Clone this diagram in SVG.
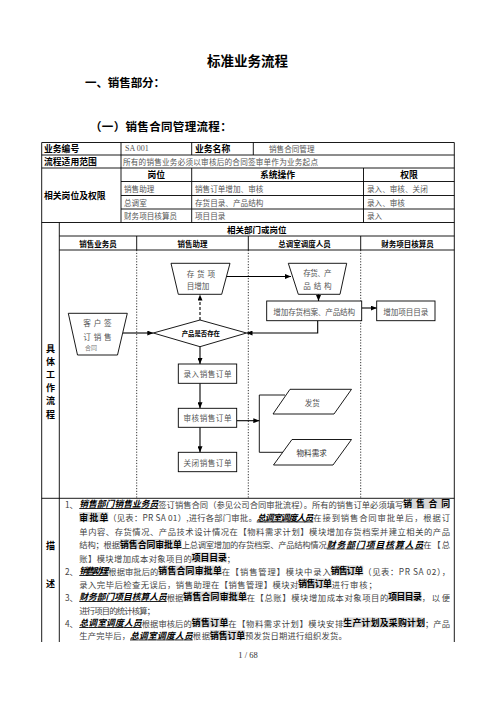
<svg xmlns="http://www.w3.org/2000/svg" width="496" height="702" viewBox="0 0 496 702">
<defs>
<style>
text{font-family:"Noto Sans CJK SC","Noto Sans",sans-serif;dominant-baseline:central}
.h{font-weight:bold;fill:#000}
.g{fill:#555;font-size:7.6px}
.n{fill:#555;font-size:7.6px}
.ln{stroke:#000;stroke-width:0.9;fill:none}
.dt{stroke:#000;stroke-width:0.8;stroke-dasharray:1.2 1.6;fill:none}
.nd{fill:#fff;stroke:#000;stroke-width:0.9}
.ar{stroke:#000;stroke-width:1.1;fill:none;marker-end:url(#ah)}
.d{fill:#444;font-size:8.3px}
.b{fill:#000;font-size:8.8px;font-weight:bold}
.u{fill:#000;font-size:8.8px;font-weight:bold;font-style:italic;text-decoration:underline}
.hl{fill:#d9d9d9}
</style>
<marker id="ah" markerUnits="userSpaceOnUse" markerWidth="6" markerHeight="5" refX="6" refY="2.5" orient="auto">
<path d="M0,0 L6,2.5 L0,5 z" fill="#000"/>
</marker>
</defs>
<rect width="496" height="702" fill="#fff"/>

<g id="titles">
<text x="247.5" y="59.5" class="h" font-size="13.5" text-anchor="middle">标准业务流程</text>
<text x="85" y="81.7" class="h" font-size="11.5" textLength="80" lengthAdjust="spacing">一、销售部分：</text>
<text x="90" y="126" class="h" font-size="11.5" textLength="141.7" lengthAdjust="spacing">（一）销售合同管理流程：</text>
</g>

<g id="table">
<path class="ln" d="M41.7,142.5 H454.3 M41.7,155 H454.3 M41.7,168 H454.3 M121,181.5 H454.3 M121,195.5 H454.3 M121,209 H454.3 M41.7,222.5 H454.3 M59.3,236 H454.3 M59.3,250 H454.3 M41.7,498.3 H454.3"/>
<path class="ln" d="M41.7,142.5 V642 M454.3,142.5 V642 M121,142.5 V222.5 M191.7,142.5 V155 M253.3,142.5 V155 M191.7,168 V222.5 M363.5,168 V222.5 M59.3,222.5 V642 M136.7,236 V250 M248.3,236 V250 M360.7,236 V250"/>
<path class="dt" d="M136.7,250 V498.3 M248.3,250 V498.3 M360.7,250 V498.3"/>
<text x="44" y="148.8" class="h" font-size="8.8">业务编号</text>
<text x="125" y="148.8" fill="#555" font-size="8" style="font-family:'Liberation Serif',serif">SA 001</text>
<text x="195" y="148.8" class="h" font-size="8.8">业务名称</text>
<text x="269" y="148.8" class="n" font-size="7.9">销售合同管理</text>
<text x="44" y="161.5" class="h" font-size="8.8">流程适用范围</text>
<text x="123" y="161.5" class="n" textLength="195" lengthAdjust="spacing">所有的销售业务必须以审核后的合同签审单作为业务起点</text>
<text x="44" y="195.5" class="h" font-size="8.8">相关岗位及权限</text>
<text x="156.3" y="174.8" class="h" font-size="8.8" text-anchor="middle">岗位</text>
<text x="277.5" y="174.8" class="h" font-size="8.8" text-anchor="middle">系统操作</text>
<text x="409" y="174.8" class="h" font-size="8.8" text-anchor="middle">权限</text>
<text x="124" y="188.5" class="n">销售助理</text>
<text x="195" y="188.5" class="n">销售订单增加、审核</text>
<text x="367" y="188.5" class="n">录入、审核、关闭</text>
<text x="124" y="202.3" class="n">总调室</text>
<text x="195" y="202.3" class="n">存货目录、产品结构</text>
<text x="367" y="202.3" class="n">录入、审核</text>
<text x="124" y="215.8" class="n">财务项目核算员</text>
<text x="195" y="215.8" class="n">项目目录</text>
<text x="367" y="215.8" class="n">录入</text>
<text x="256.8" y="229.3" class="h" font-size="8.5" text-anchor="middle">相关部门或岗位</text>
<text x="98" y="243" class="h" font-size="7.5" text-anchor="middle">销售业务员</text>
<text x="192.5" y="243" class="h" font-size="7.5" text-anchor="middle">销售助理</text>
<text x="304.5" y="243" class="h" font-size="7.5" text-anchor="middle">总调室调度人员</text>
<text x="407.5" y="243" class="h" font-size="7.5" text-anchor="middle">财务项目核算员</text>
<g class="h" font-size="9" text-anchor="middle">
<text x="50.5" y="348">具</text>
<text x="50.5" y="361">体</text>
<text x="50.5" y="374">工</text>
<text x="50.5" y="387.5">作</text>
<text x="50.5" y="400.5">流</text>
<text x="50.5" y="414">程</text>
<text x="50.5" y="545">描</text>
<text x="50.5" y="583.5">述</text>
</g>
</g>

<g id="connectors">
<path class="ar" d="M226.5,276.5 H291"/>
<path class="ar" d="M318.5,294.3 V301"/>
<path class="ar" d="M361.7,308 H376.7"/>
<path class="ar" d="M317.7,320.7 V333 H246.5"/>
<path class="ar" d="M123,333 H153.3"/>
<path class="ar" d="M200,320 V294.6" stroke-dasharray="3 2"/>
<path class="ar" d="M200,346.7 V364"/>
<path class="ar" d="M200,383.3 V408.3"/>
<path class="ar" d="M200,427.3 V452.3"/>
<path class="ar" d="M236.7,420.7 H259.3"/>
<path class="ln" d="M285,395 H259.3 V452.3 H283.2"/>
</g>

<g id="n-cunhuo">
<polygon class="nd" points="171,263.3 230,263.3 221.7,294.3 178.3,294.3"/>
<text x="186.7" y="273.3" class="g" textLength="28.3" lengthAdjust="spacing">存货项</text>
<text x="186.7" y="285" class="g">目增加</text>
</g>
<g id="n-cunhuo2">
<polygon class="nd" points="288.3,263.3 346.7,263.3 340,294.3 298.3,294.3"/>
<text x="303.3" y="272" class="g" textLength="28.4" lengthAdjust="spacing">存货、产</text>
<text x="303.3" y="285" class="g" textLength="28.4" lengthAdjust="spacing">品结构</text>
</g>
<g id="n-dangan">
<rect class="nd" x="266.7" y="301" width="95" height="19.7"/>
<text x="314.2" y="311" class="g" text-anchor="middle" textLength="81.7" lengthAdjust="spacing">增加存货档案、产品结构</text>
</g>
<g id="n-xiangmu">
<rect class="nd" x="376.7" y="301" width="58.3" height="19.7"/>
<text x="405.8" y="311" class="g" text-anchor="middle" textLength="45" lengthAdjust="spacing">增加项目目录</text>
</g>
<g id="n-kehu">
<polygon class="nd" points="68.3,313.3 127.3,313.3 117.5,355 77.5,355"/>
<text x="83.3" y="322.7" class="g" textLength="28.4" lengthAdjust="spacing">客户签</text>
<text x="83.3" y="336" class="g" textLength="28.4" lengthAdjust="spacing">订销售</text>
<text x="85" y="347.7" fill="#777" font-size="6">合同</text>
</g>
<g id="n-panduan">
<polygon class="nd" points="153.3,333 200,320 246.5,333 200,346.7"/>
<text x="200.8" y="333.5" class="h" font-size="6.4" text-anchor="middle">产品是否存在</text>
</g>
<g id="n-luru">
<rect class="nd" x="178.3" y="364" width="58.4" height="19.3"/>
<text x="207.5" y="373.5" class="g" text-anchor="middle" textLength="48" lengthAdjust="spacing">录入销售订单</text>
</g>
<g id="n-shenhe">
<rect class="nd" x="178.3" y="408.3" width="58.4" height="19"/>
<text x="207.5" y="417.8" class="g" text-anchor="middle" textLength="48" lengthAdjust="spacing">审核销售订单</text>
</g>
<g id="n-guanbi">
<rect class="nd" x="178.3" y="452.3" width="58.4" height="19.4"/>
<text x="207.5" y="462" class="g" text-anchor="middle" textLength="48" lengthAdjust="spacing">关闭销售订单</text>
</g>
<g id="n-fahuo">
<polygon class="nd" points="290,389.3 351.5,389.3 334,414 273,414"/>
<text x="312.3" y="402" class="g" text-anchor="middle">发货</text>
</g>
<g id="n-wuliao">
<polygon class="nd" points="292,439.5 351.5,439.5 333,465 273.5,465"/>
<text x="311.7" y="452.5" fill="#333" font-size="7.6" text-anchor="middle">物料需求</text>
</g>

<g id="description">
<rect class="hl" x="403.3" y="498.8" width="46.7" height="10"/>
<rect class="hl" x="79.3" y="512" width="29" height="10"/>
<rect class="hl" x="120" y="539" width="61.7" height="10"/>
<rect class="hl" x="191.7" y="552.5" width="35" height="10"/>
<rect class="hl" x="158.3" y="565.5" width="63.4" height="10"/>
<rect class="hl" x="330.7" y="565.5" width="32.6" height="10"/>
<rect class="hl" x="298.3" y="578.5" width="33.4" height="10"/>
<rect class="hl" x="183.3" y="591.5" width="63.4" height="10"/>
<rect class="hl" x="388.3" y="591.5" width="33.4" height="10"/>
<rect class="hl" x="191.7" y="617.5" width="36.6" height="10"/>
<rect class="hl" x="343.3" y="617.5" width="81.7" height="10"/>
<rect class="hl" x="210" y="630" width="35" height="10"/>

<text x="65" y="503.5" class="d">1、</text>
<text x="79.3" y="503.5" class="u" textLength="79" lengthAdjust="spacing">销售部门销售业务员</text>
<text x="158.3" y="503.5" class="d" textLength="245" lengthAdjust="spacing">签订销售合同（参见公司合同审批流程）。所有的销售订单必须填写</text>
<text x="403.3" y="503.5" class="b" textLength="46.7" lengthAdjust="spacing">销售合同</text>

<text x="79.3" y="517" class="b" textLength="29" lengthAdjust="spacing">审批单</text>
<text x="108.3" y="517" class="d" textLength="148.4" lengthAdjust="spacing">（见表：PR SA 01）,进行各部门审批。</text>
<text x="256.7" y="517" class="u" textLength="56.6" lengthAdjust="spacing">总调室调度人员</text>
<text x="313.3" y="517" class="d" textLength="136.7" lengthAdjust="spacing">在接到销售合同审批单后，根据订</text>

<text x="79.3" y="530.5" class="d" textLength="370.7" lengthAdjust="spacing">单内容、存货情况、产品技术设计情况在【物料需求计划】模块增加存货档案并建立相关的产品</text>

<text x="79.3" y="544" class="d" textLength="40.7" lengthAdjust="spacing">结构；根据</text>
<text x="120" y="544" class="b" textLength="61.7" lengthAdjust="spacing">销售合同审批单</text>
<text x="181.7" y="544" class="d" textLength="145" lengthAdjust="spacing">上总调室增加的存货档案、产品结构情况</text>
<text x="326.7" y="544" class="u" textLength="96.6" lengthAdjust="spacing">财务部门项目核算人员</text>
<text x="423.3" y="544" class="d" textLength="26.7" lengthAdjust="spacing">在【总</text>

<text x="79.3" y="557.5" class="d" textLength="112.4" lengthAdjust="spacing">账】模块增加成本对象项目的</text>
<text x="191.7" y="557.5" class="b" textLength="35" lengthAdjust="spacing">项目目录</text>
<text x="226.7" y="557.5" class="d">；</text>

<text x="65" y="570.5" class="d">2、</text>
<text x="79.3" y="570.5" class="u" textLength="29" lengthAdjust="spacing">销售助理</text>
<text x="108.3" y="570.5" class="d" textLength="50" lengthAdjust="spacing">根据审批后的</text>
<text x="158.3" y="570.5" class="b" textLength="63.4" lengthAdjust="spacing">销售合同审批单</text>
<text x="221.7" y="570.5" class="d" textLength="109" lengthAdjust="spacing">在【销售管理】模块中录入</text>
<text x="330.7" y="570.5" class="b" textLength="32.6" lengthAdjust="spacing">销售订单</text>
<text x="363.3" y="570.5" class="d" textLength="86.7" lengthAdjust="spacing">（见表：PR SA  02），</text>

<text x="79.3" y="583.5" class="d" textLength="219" lengthAdjust="spacing">录入完毕后检查无误后，销售助理在【销售管理】模块对</text>
<text x="298.3" y="583.5" class="b" textLength="33.4" lengthAdjust="spacing">销售订单</text>
<text x="331.7" y="583.5" class="d" textLength="45" lengthAdjust="spacing">进行审核；</text>

<text x="65" y="596.5" class="d">3、</text>
<text x="79.3" y="596.5" class="u" textLength="87.4" lengthAdjust="spacing">财务部门项目核算人员</text>
<text x="166.7" y="596.5" class="d" textLength="16.6" lengthAdjust="spacing">根据</text>
<text x="183.3" y="596.5" class="b" textLength="63.4" lengthAdjust="spacing">销售合同审批单</text>
<text x="246.7" y="596.5" class="d" textLength="141.6" lengthAdjust="spacing">在【总账】模块增加成本对象项目的</text>
<text x="388.3" y="596.5" class="b" textLength="33.4" lengthAdjust="spacing">项目目录</text>
<text x="421.7" y="596.5" class="d" textLength="28.3" lengthAdjust="spacing">，以便</text>

<text x="79.3" y="609.5" class="d" textLength="75.7" lengthAdjust="spacing">进行项目的统计核算；</text>

<text x="65" y="622.5" class="d">4、</text>
<text x="79.3" y="622.5" class="u" textLength="62.4" lengthAdjust="spacing">总调室调度人员</text>
<text x="141.7" y="622.5" class="d" textLength="50" lengthAdjust="spacing">根据审核后的</text>
<text x="191.7" y="622.5" class="b" textLength="36.6" lengthAdjust="spacing">销售订单</text>
<text x="228.3" y="622.5" class="d" textLength="115" lengthAdjust="spacing">在【物料需求计划】模块安排</text>
<text x="343.3" y="622.5" class="b" textLength="81.7" lengthAdjust="spacing">生产计划及采购计划</text>
<text x="425" y="622.5" class="d" textLength="25" lengthAdjust="spacing">；产品</text>

<text x="79.3" y="635" class="d" textLength="50.7" lengthAdjust="spacing">生产完毕后，</text>
<text x="130" y="635" class="u" textLength="62.7" lengthAdjust="spacing">总调室调度人员</text>
<text x="192.7" y="635" class="d" textLength="17.3" lengthAdjust="spacing">根据</text>
<text x="210" y="635" class="b" textLength="35" lengthAdjust="spacing">销售订单</text>
<text x="245" y="635" class="d" textLength="101.7" lengthAdjust="spacing">预发货日期进行组织发货。</text>
</g>

<text x="248" y="655" text-anchor="middle" fill="#333" font-size="8.5" style="font-family:'Liberation Serif',serif">1 / 68</text>
</svg>
